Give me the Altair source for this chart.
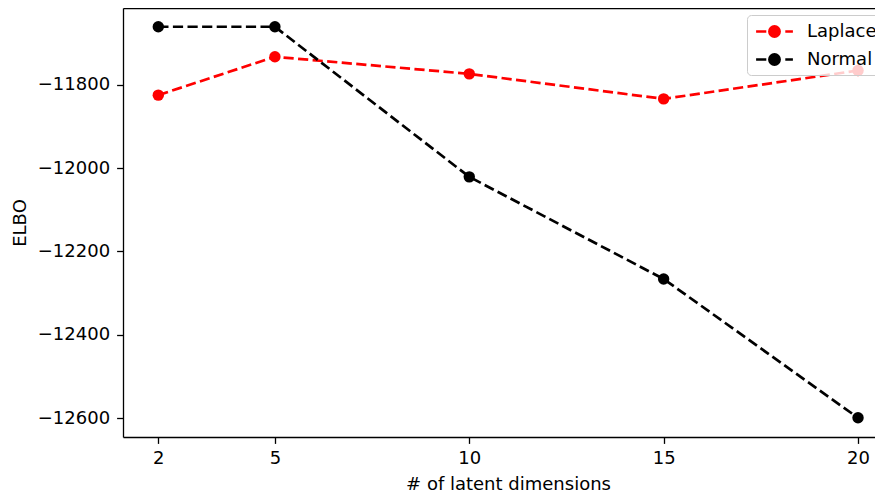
import altair as alt
import pandas as pd

# ---- data ----
dims = [2, 5, 10, 15, 20]
laplace = [-11825, -11733, -11774, -11834, -11766]
normal = [-11661, -11661, -12021, -12266, -12599]
series_names = ["Laplace", "Normal"]
series_colors = ["#ff0000", "#000000"]
x_ticks = [2, 5, 10, 15, 20]
y_ticks = [-12600, -12400, -12200, -12000, -11800]
x_domain = [1.092, 20.437]
y_domain = [-12645, -11616]

df = pd.DataFrame({
    "dims": dims + dims,
    "elbo": laplace + normal,
    "series": [series_names[0]] * len(dims) + [series_names[1]] * len(dims),
})

FONT = "DejaVu Sans"
FS = 18
AXC = "#000000"

legend_path = ("M-1.84,0L-0.82,0M1.08,0L1.84,0"
               "M0.51,0A0.51,0.51,0,1,1,-0.51,0A0.51,0.51,0,1,1,0.51,0Z")

legend = alt.Legend(
    title=None, orient="none", legendX=624, legendY=7,
    padding=5, rowPadding=6,
    fillColor="rgba(255,255,255,0.8)", strokeColor="#cccccc", cornerRadius=4,
    labelFont=FONT, labelFontSize=FS, labelColor="#000000",
    symbolType=legend_path, symbolSize=400, symbolStrokeWidth=2.7,
    symbolOffset=11, labelOffset=21, zindex=2,
)

xs = alt.Scale(domain=x_domain, nice=False, zero=False)
ys = alt.Scale(domain=y_domain, nice=False, zero=False)
cs = alt.Scale(domain=series_names, range=series_colors)

bottom_axis = alt.Axis(
    orient="bottom", values=x_ticks, format="d", title="# of latent dimensions",
    labelBaseline="alphabetic", labelPadding=20, titleX=385, titleY=52,
    titleBaseline="alphabetic", titleAlign="center",
)
top_axis = alt.Axis(orient="top", labels=False, ticks=False, title=None, domain=True)
left_axis = alt.Axis(
    values=y_ticks, format="d", title="ELBO", labelPadding=7,
    titleX=-103, titleY=214.5, titleAngle=270, titleAlign="center", titleBaseline="middle",
)

lines = alt.Chart(df).mark_line(strokeDash=[10.2, 4.4], strokeWidth=2.7).encode(
    x=alt.X("dims:Q", scale=xs, axis=bottom_axis),
    y=alt.Y("elbo:Q", scale=ys, axis=left_axis),
    stroke=alt.Stroke("series:N", scale=cs, legend=legend),
    detail="series:N",
)

points = alt.Chart(df).mark_circle(size=130, opacity=1).encode(
    x=alt.X("dims:Q", scale=xs, axis=top_axis),
    y=alt.Y("elbo:Q", scale=ys, axis=left_axis),
    fill=alt.Fill("series:N", scale=cs, legend=legend),
)

chart = alt.layer(lines, points).resolve_axis(x="independent").properties(
    width=752, height=429,
    autosize=alt.AutoSizeParams(type="none"),
    padding={"left": 115, "top": 0, "right": 0, "bottom": 56},
).configure_view(stroke=None).configure_axis(
    grid=False, domainColor=AXC, domainWidth=1.3, tickColor=AXC, tickWidth=1.3,
    tickSize=6.4, labelFont=FONT, labelFontSize=FS, labelColor="#000000",
    titleFont=FONT, titleFontSize=FS, titleFontWeight="normal", titleColor="#000000",
)

chart.save("out.html", embed_options={"renderer": "svg", "actions": False})
